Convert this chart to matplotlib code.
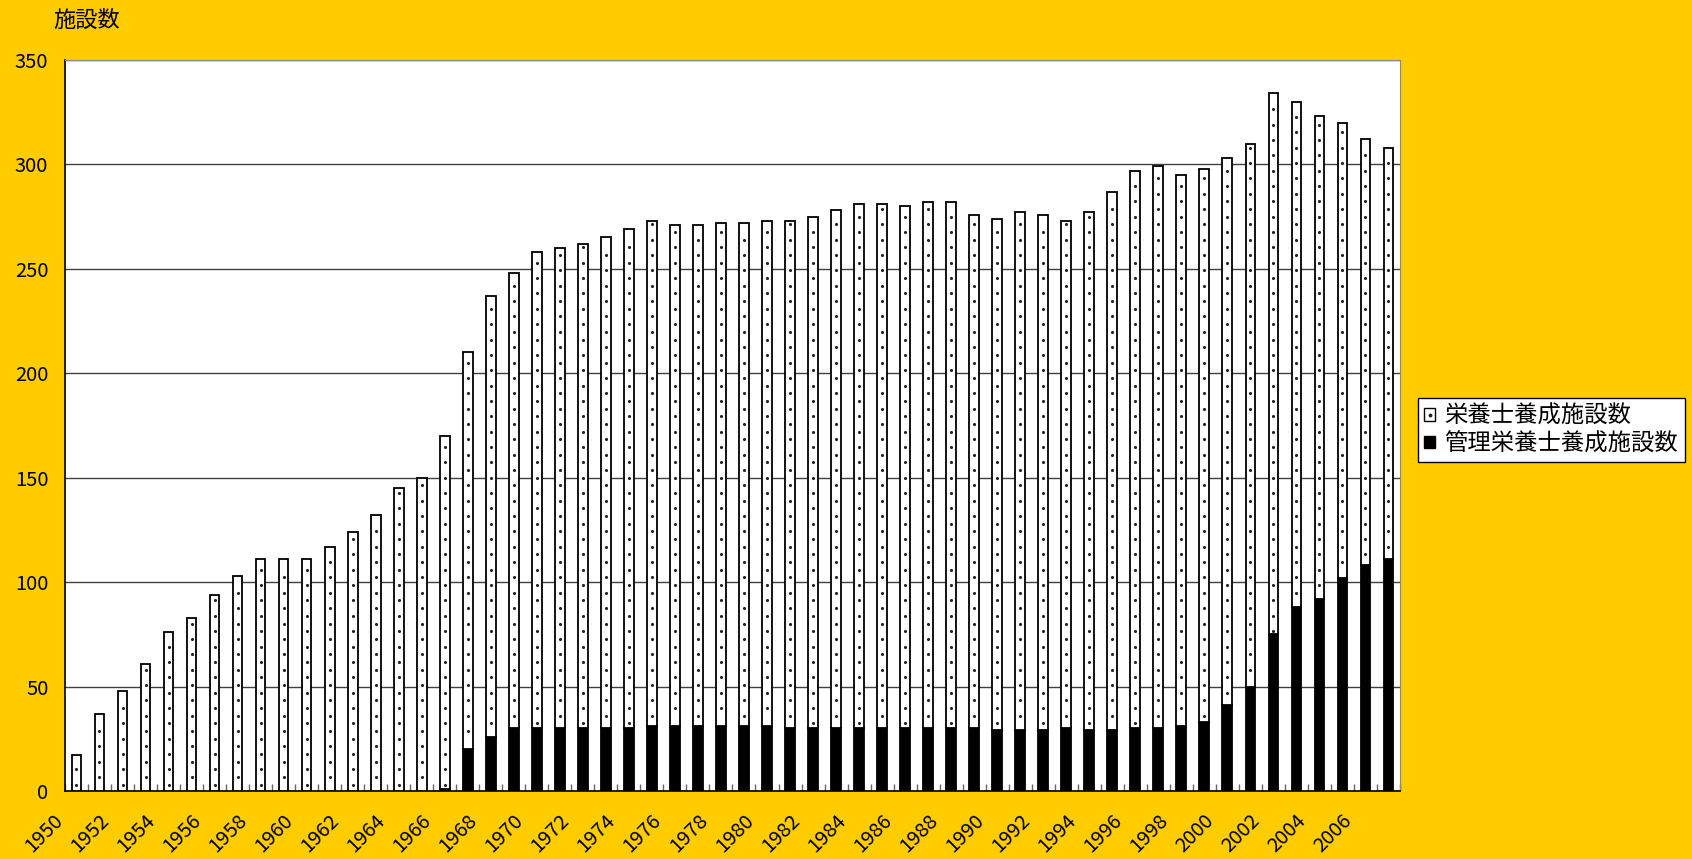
import numpy as np
import matplotlib
matplotlib.use("Agg")
from matplotlib import pyplot as plt
from matplotlib.patches import Rectangle
from matplotlib.lines import Line2D
from matplotlib.transforms import ScaledTranslation

plt.rcParams['font.family'] = ['Noto Sans CJK JP', 'DejaVu Sans']

years = list(range(1950, 2008))

# 管理栄養士養成施設数 (black, bottom of stack)
kanri = [0, 0, 0, 0, 0, 0, 0, 0, 0, 0,
         0, 0, 0, 0, 0, 0, 1, 20, 26, 30,
         30, 30, 30, 30, 30, 31, 31, 31, 31, 31,
         31, 30, 30, 30, 30, 30, 30, 30, 30, 30,
         29, 29, 29, 30, 29, 29, 30, 30, 31, 33,
         41, 50, 75, 88, 92, 102, 108, 111]

# 栄養士養成施設数 (white dotted, stacked on top)
eiyoshi = [17, 37, 48, 61, 76, 83, 94, 103, 111, 111,
           111, 117, 124, 132, 145, 150, 169, 190, 211, 218,
           228, 230, 232, 235, 239, 242, 240, 240, 241, 241,
           242, 243, 245, 248, 251, 251, 250, 252, 252, 246,
           245, 248, 247, 243, 248, 258, 267, 269, 264, 265,
           262, 260, 259, 242, 231, 218, 204, 197]

yticks = [0, 50, 100, 150, 200, 250, 300, 350]

x = np.arange(len(years))

fig = plt.figure(figsize=(16.92, 8.59), dpi=100, facecolor='#FFCC00')
ax = fig.add_axes([0.0384, 0.0792, 0.7890, 0.8510])
ax.set_facecolor('white')

bw = 0.42
b1 = ax.bar(x, kanri, width=bw, color='black', edgecolor='black',
            linewidth=1.3, zorder=3)
b2 = ax.bar(x, eiyoshi, bottom=kanri, width=bw, color='white',
            edgecolor='black', linewidth=1.3, zorder=3)

# dotted fill pattern of the white bars: one column of dots per bar
step = 7.35
dx, dy = [], []
for i in range(len(years)):
    lo = kanri[i]
    hi = kanri[i] + eiyoshi[i]
    y0 = 3.0 + (i % 2) * step / 2
    while y0 < lo + 1.5:
        y0 += step
    while y0 < hi - 1.5:
        dx.append(x[i])
        dy.append(y0)
        y0 += step
ax.scatter(dx, dy, s=5, color='#222222', marker='o', linewidths=0,
           zorder=4)

ax.set_xlim(-0.5, len(years) - 0.5)
ax.set_ylim(0, 350)
ax.set_yticks(yticks)
ax.yaxis.grid(True, color='#404040', linewidth=1.0)
ax.set_axisbelow(True)
ax.tick_params(axis='y', length=0, pad=12, labelsize=14.5)

ax.set_xticks(x[::2])
ax.set_xticklabels([str(y) for y in years[::2]], rotation=45, ha='right',
                   fontsize=14.5)
ax.tick_params(axis='x', which='major', length=0, pad=14)
ax.set_xticks(np.arange(-0.5, len(years), 1), minor=True)
ax.tick_params(axis='x', which='minor', direction='in', length=5,
               color='#666666', width=1)
for lab in ax.get_xticklabels():
    lab.set_transform(lab.get_transform() +
                      ScaledTranslation(-0.09, 0, fig.dpi_scale_trans))

for side in ['top', 'right']:
    ax.spines[side].set_color('#888888')
for side in ['left', 'bottom']:
    ax.spines[side].set_color('black')
    ax.spines[side].set_linewidth(1.2)

fig.text(0.0313, 0.977, '施設数', fontsize=16, va='center', ha='left')

h_white = (Rectangle((0, 0), 1, 1, facecolor='white', edgecolor='black',
                     linewidth=1.0),
           Line2D([], [], marker='o', markersize=1.8, color='#222222',
                  linestyle='none'))
h_black = Rectangle((0, 0), 1, 1, facecolor='black', edgecolor='black',
                    linewidth=1.0)
leg = ax.legend([h_white, h_black], ['栄養士養成施設数', '管理栄養士養成施設数'],
                loc='center left', bbox_to_anchor=(0.838, 0.4994),
                bbox_transform=fig.transFigure, fontsize=16.8,
                handlelength=0.45, handleheight=0.45, handletextpad=0.4,
                borderpad=0.28, labelspacing=0.2, borderaxespad=0,
                fancybox=False, frameon=True, framealpha=1,
                facecolor='white')
leg.get_frame().set_edgecolor('black')
leg.get_frame().set_linewidth(1.0)

fig.savefig('out.png', dpi=100, facecolor=fig.get_facecolor())
